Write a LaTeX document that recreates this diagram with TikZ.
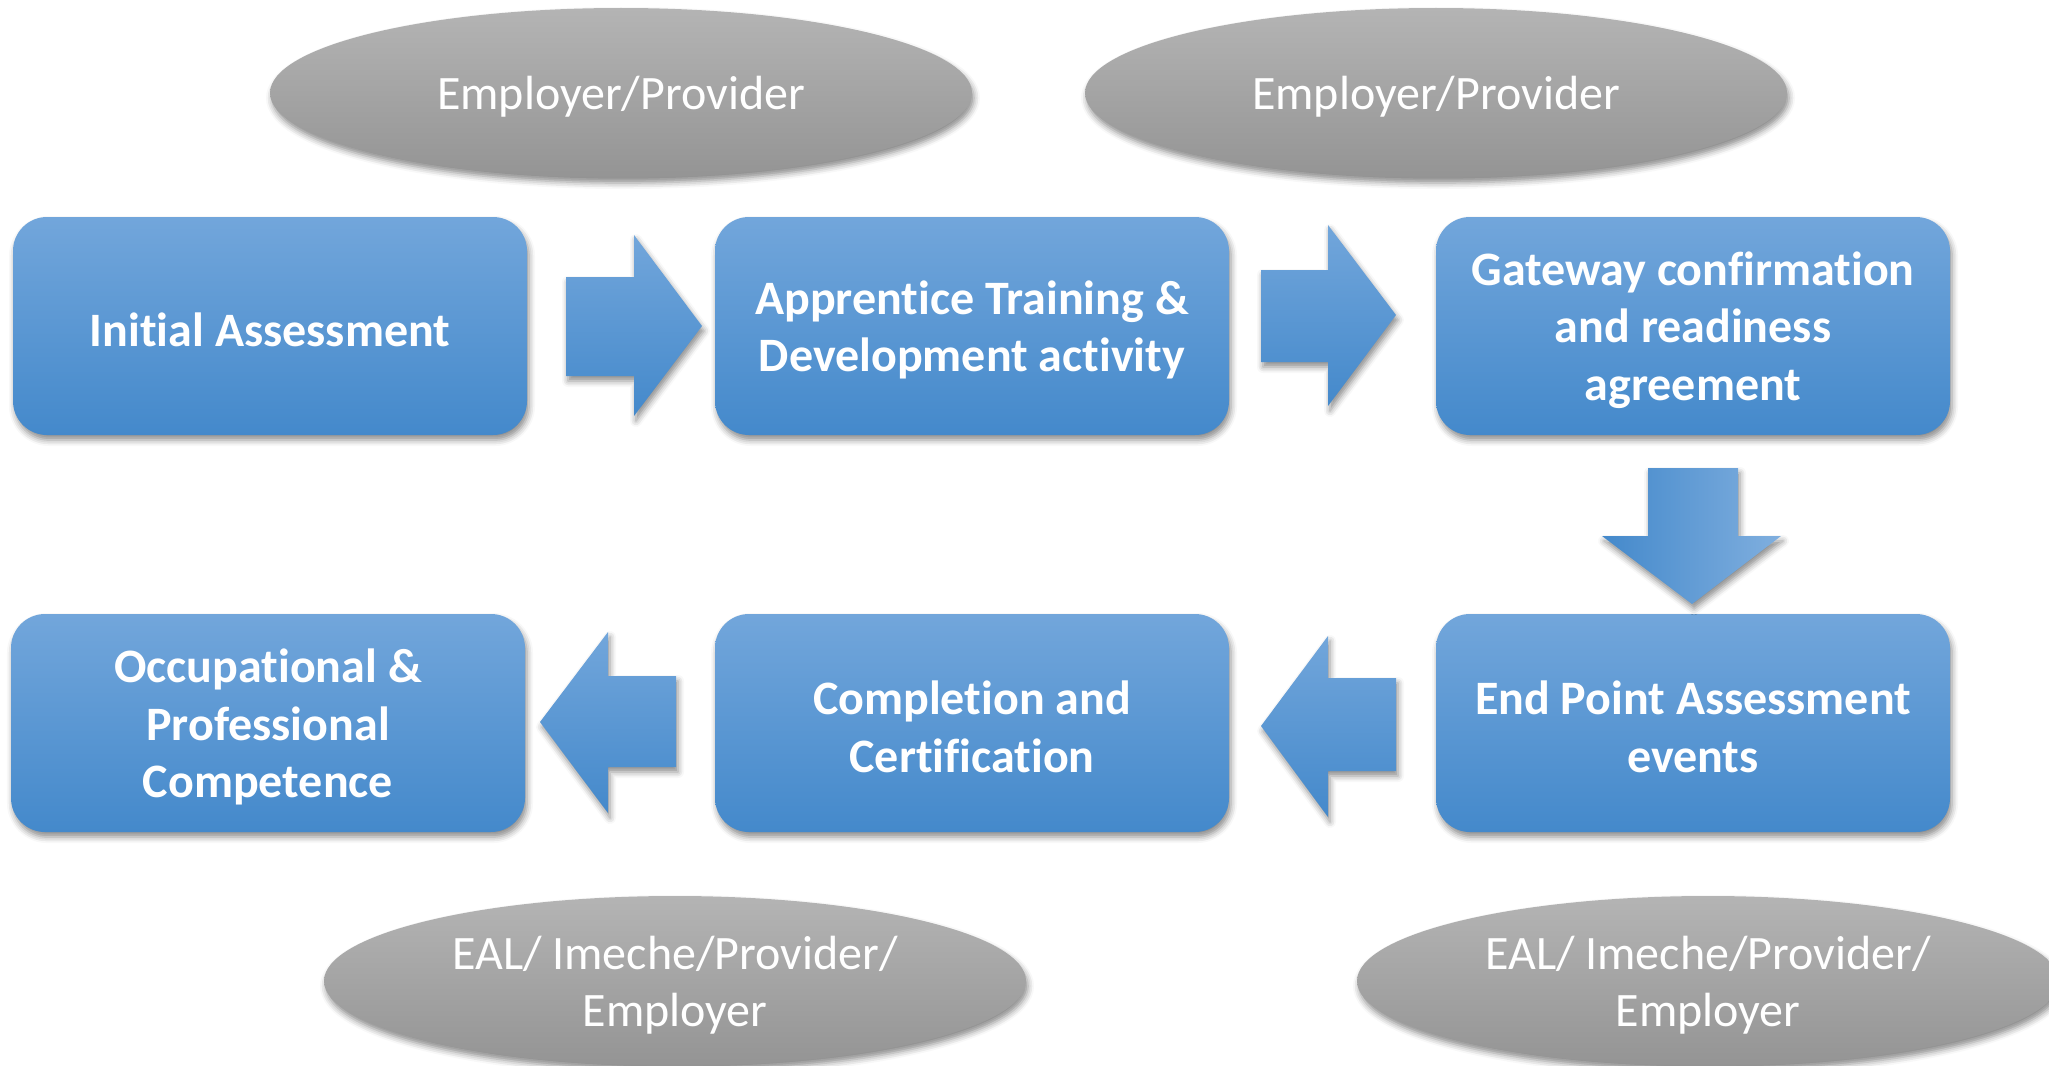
\documentclass[tikz,border=0pt]{standalone}
\usepackage{fontspec}
\setmainfont[Ligatures={NoCommon}]{Carlito}
\usetikzlibrary{shadows.blur,shapes.geometric}
\definecolor{btop}{RGB}{114,166,219}
\definecolor{bbot}{RGB}{68,137,203}
\definecolor{gtop}{RGB}{180,180,180}
\definecolor{gbot}{RGB}{148,148,148}
\tikzset{
  shad/.style={blur shadow={shadow xshift=2pt, shadow yshift=-5pt, shadow blur radius=6pt, shadow opacity=45}},
  stagebox/.style={shad, rounded corners=34pt, top color=btop, bottom color=bbot, draw=none,
    minimum width=514pt, minimum height=218pt},
  stagetext/.style={align=center, text=white, inner sep=0pt,
    font=\fontsize{48}{57.6}\selectfont\bfseries},
  roleoval/.style={shad, ellipse, top color=gtop, bottom color=gbot, draw=none,
    minimum width=702pt, minimum height=170pt, inner sep=0pt},
  roletext/.style={align=center, text=white, inner sep=0pt,
    font=\fontsize{48}{57.6}\selectfont},
  blockarrow/.style={shad, top color=btop, bottom color=bbot, draw=none},
}
\begin{document}
\begin{tikzpicture}[x=1pt,y=-1pt]
\useasboundingbox (0,0) rectangle (2049,1065);
\clip (0,0) rectangle (2049,1065);
% role ellipses
\node[roleoval] (r1) at (621,93) {};
\node[roleoval] (r2) at (1436,93) {};
\node[roleoval] (r3) at (675,981) {};
\node[roleoval] (r4) at (1708,981) {};
\node[roletext] (r1t) at ([yshift=-4pt]r1.center) {Employer/Provider};
\node[roletext] (r2t) at ([yshift=-4pt]r2.center) {Employer/Provider};
\node[roletext] (r3t) at ([yshift=-4pt]r3.center) {EAL/ Imeche/Provider/\\Employer};
\node[roletext] (r4t) at ([yshift=-4pt]r4.center) {EAL/ Imeche/Provider/\\Employer};
% stage boxes
\node[stagebox] (ia) at (270,326) {};
\node[stagebox] (at) at (972,326) {};
\node[stagebox] (gw) at (1693,326) {};
\node[stagebox] (oc) at (268,723) {};
\node[stagebox] (cc) at (972,723) {};
\node[stagebox] (ep) at (1693,723) {};
\node[stagetext] (iat) at ([yshift=-4pt]ia.center) {Initial Assessment};
\node[stagetext] (att) at ([yshift=-4pt]at.center) {Apprentice Training \&\\Development activity};
\node[stagetext] (gwt) at ([yshift=-4pt]gw.center) {Gateway confirmation\\and readiness\\agreement};
\node[stagetext] (oct) at ([yshift=-4pt]oc.center) {Occupational \&\\Professional\\Competence};
\node[stagetext] (cct) at ([yshift=-4pt]cc.center) {Completion and\\Certification};
\node[stagetext] (ept) at ([yshift=-4pt]ep.center) {End Point Assessment\\events};
% block arrows
\path[blockarrow] (566,277) -- (634,277) -- (634,235) -- (702,326) -- (634,416) -- (634,376) -- (566,376) -- cycle;
\path[blockarrow] (1261,270) -- (1328,270) -- (1328,225) -- (1396,315) -- (1328,406) -- (1328,362) -- (1261,362) -- cycle;
\path[shad, left color=bbot, right color=btop!90!white, draw=none] (1648,468) -- (1738,468) -- (1738,536) -- (1781,536) -- (1692,604) -- (1602,536) -- (1648,536) -- cycle;
\path[blockarrow] (1396,678) -- (1328,678) -- (1328,636) -- (1261,726) -- (1328,817) -- (1328,771) -- (1396,771) -- cycle;
\path[blockarrow] (676,676) -- (608,676) -- (608,632) -- (540,722) -- (608,813) -- (608,767) -- (676,767) -- cycle;
\end{tikzpicture}
\end{document}
